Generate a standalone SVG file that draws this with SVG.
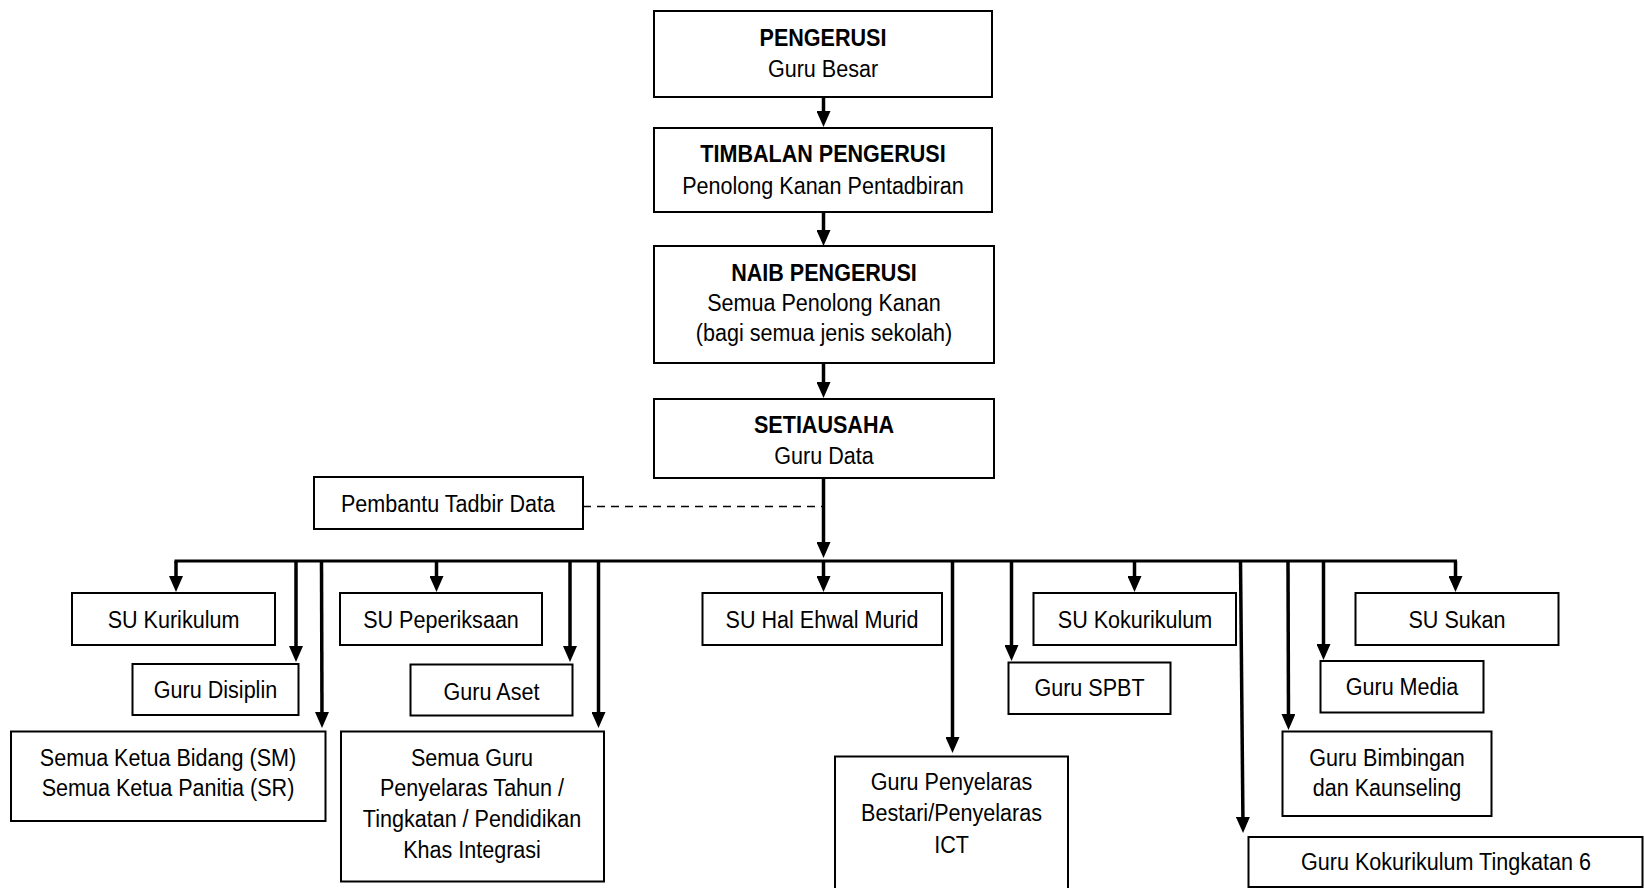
<svg xmlns="http://www.w3.org/2000/svg" width="1644" height="888" viewBox="0 0 1644 888">
<style>
.box{fill:#fff;stroke:#000;stroke-width:2}
.t{font-family:"Liberation Sans",Arial,sans-serif;font-size:24.5px;text-anchor:middle;fill:#000}
.b{font-weight:bold}
.c{stroke:#000;stroke-width:3.5;fill:none}
.bus{stroke:#000;stroke-width:3;fill:none}
.dash{stroke:#000;stroke-width:1.6;stroke-dasharray:8,6;fill:none}
</style>
<defs>
<marker id="ah" viewBox="0 0 16 14" markerWidth="16" markerHeight="14" refX="10" refY="7" orient="auto" markerUnits="userSpaceOnUse">
<path d="M0,0 L16,7 L0,14 z" fill="#000"/>
</marker>
</defs>
<rect width="1644" height="888" fill="#fff"/>

<g id="pengerusi">
<rect class="box" x="654" y="11" width="338" height="86"/>
<g transform="translate(823 0) scale(0.88 1)" class="t"><text class="b" x="0" y="46.5">PENGERUSI</text><text x="0" y="77">Guru Besar</text></g>
</g>
<g id="timbalan">
<rect class="box" x="654" y="128" width="338" height="84"/>
<g transform="translate(823 0) scale(0.88 1)" class="t"><text class="b" x="0" y="162.5">TIMBALAN PENGERUSI</text><text x="0" y="194.5">Penolong Kanan Pentadbiran</text></g>
</g>
<g id="naib">
<rect class="box" x="654" y="246" width="340" height="117"/>
<g transform="translate(824 0) scale(0.88 1)" class="t"><text class="b" x="0" y="281.5">NAIB PENGERUSI</text><text x="0" y="311.5">Semua Penolong Kanan</text><text x="0" y="341.5">(bagi semua jenis sekolah)</text></g>
</g>
<g id="setiausaha">
<rect class="box" x="654" y="399" width="340" height="79"/>
<g transform="translate(824 0) scale(0.88 1)" class="t"><text class="b" x="0" y="433">SETIAUSAHA</text><text x="0" y="464">Guru Data</text></g>
</g>
<g id="pembantu">
<rect class="box" x="314" y="477" width="269" height="52"/>
<g transform="translate(448 0) scale(0.88 1)" class="t"><text x="0" y="512.5">Pembantu Tadbir Data</text></g>
</g>

<g id="su-kurikulum">
<rect class="box" x="72" y="593" width="203" height="52"/>
<g transform="translate(173.5 0) scale(0.88 1)" class="t"><text x="0" y="628">SU Kurikulum</text></g>
</g>
<g id="guru-disiplin">
<rect class="box" x="132.5" y="664" width="166" height="51"/>
<g transform="translate(215.5 0) scale(0.88 1)" class="t"><text x="0" y="698.5">Guru Disiplin</text></g>
</g>
<g id="ketua-bidang">
<rect class="box" x="11" y="731.5" width="314.5" height="89.5"/>
<g transform="translate(168 0) scale(0.88 1)" class="t"><text x="0" y="766.5">Semua Ketua Bidang (SM)</text><text x="0" y="796.5">Semua Ketua Panitia (SR)</text></g>
</g>
<g id="su-peperiksaan">
<rect class="box" x="340" y="593" width="202" height="52"/>
<g transform="translate(441 0) scale(0.88 1)" class="t"><text x="0" y="628">SU Peperiksaan</text></g>
</g>
<g id="guru-aset">
<rect class="box" x="410.5" y="664.5" width="162" height="51"/>
<g transform="translate(491.5 0) scale(0.88 1)" class="t"><text x="0" y="700">Guru Aset</text></g>
</g>
<g id="guru-penyelaras-tahun">
<rect class="box" x="341" y="731.5" width="263" height="150"/>
<g transform="translate(472 0) scale(0.88 1)" class="t"><text x="0" y="766.5">Semua Guru</text><text x="0" y="796.5">Penyelaras Tahun /</text><text x="0" y="827">Tingkatan / Pendidikan</text><text x="0" y="858">Khas Integrasi</text></g>
</g>
<g id="su-hem">
<rect class="box" x="702.5" y="593" width="239.5" height="52"/>
<g transform="translate(822 0) scale(0.88 1)" class="t"><text x="0" y="628">SU Hal Ehwal Murid</text></g>
</g>
<g id="guru-penyelaras-ict">
<rect class="box" x="835" y="756.5" width="233" height="145"/>
<g transform="translate(951.5 0) scale(0.88 1)" class="t"><text x="0" y="790.5">Guru Penyelaras</text><text x="0" y="821.5">Bestari/Penyelaras</text><text x="0" y="853">ICT</text></g>
</g>
<g id="guru-spbt">
<rect class="box" x="1008.5" y="662.5" width="162" height="51.5"/>
<g transform="translate(1089.5 0) scale(0.88 1)" class="t"><text x="0" y="696.5">Guru SPBT</text></g>
</g>
<g id="su-kokurikulum">
<rect class="box" x="1033.5" y="593" width="202.5" height="52"/>
<g transform="translate(1135 0) scale(0.88 1)" class="t"><text x="0" y="628">SU Kokurikulum</text></g>
</g>
<g id="guru-koko-t6">
<rect class="box" x="1248.5" y="837" width="394" height="50"/>
<g transform="translate(1446 0) scale(0.88 1)" class="t"><text x="0" y="870">Guru Kokurikulum Tingkatan 6</text></g>
</g>
<g id="guru-bimbingan">
<rect class="box" x="1282.5" y="731.5" width="209" height="84.5"/>
<g transform="translate(1387 0) scale(0.88 1)" class="t"><text x="0" y="766.5">Guru Bimbingan</text><text x="0" y="796.5">dan Kaunseling</text></g>
</g>
<g id="guru-media">
<rect class="box" x="1320.5" y="661" width="163" height="51.5"/>
<g transform="translate(1402 0) scale(0.88 1)" class="t"><text x="0" y="695.5">Guru Media</text></g>
</g>
<g id="su-sukan">
<rect class="box" x="1355.5" y="593" width="203" height="52"/>
<g transform="translate(1457 0) scale(0.88 1)" class="t"><text x="0" y="628">SU Sukan</text></g>
</g>

<g id="connectors">
<line class="c" x1="823.5" y1="97" x2="823.5" y2="121" marker-end="url(#ah)"/>
<line class="c" x1="823.5" y1="212" x2="823.5" y2="240" marker-end="url(#ah)"/>
<line class="c" x1="823.5" y1="363" x2="823.5" y2="392" marker-end="url(#ah)"/>
<line class="c" x1="823.5" y1="478" x2="823.5" y2="552" marker-end="url(#ah)"/>
<line class="dash" x1="583" y1="506.5" x2="822" y2="506.5"/>
<line class="bus" x1="174.5" y1="561" x2="1457" y2="561"/>
<line class="c" x1="176" y1="561" x2="176" y2="586" marker-end="url(#ah)"/>
<line class="c" x1="296" y1="561" x2="296" y2="656" marker-end="url(#ah)"/>
<line class="c" x1="321.5" y1="561" x2="322" y2="722" marker-end="url(#ah)"/>
<line class="c" x1="436.5" y1="561" x2="436.5" y2="586" marker-end="url(#ah)"/>
<line class="c" x1="570" y1="561" x2="570" y2="656" marker-end="url(#ah)"/>
<line class="c" x1="598.5" y1="561" x2="598.5" y2="722" marker-end="url(#ah)"/>
<line class="c" x1="823.5" y1="561" x2="823.5" y2="586" marker-end="url(#ah)"/>
<line class="c" x1="952.5" y1="561" x2="952.5" y2="747" marker-end="url(#ah)"/>
<line class="c" x1="1011.5" y1="561" x2="1011.5" y2="655" marker-end="url(#ah)"/>
<line class="c" x1="1134.5" y1="561" x2="1134.5" y2="586" marker-end="url(#ah)"/>
<line class="c" x1="1240.5" y1="561" x2="1243" y2="827" marker-end="url(#ah)"/>
<line class="c" x1="1288" y1="561" x2="1288.5" y2="724" marker-end="url(#ah)"/>
<line class="c" x1="1323.5" y1="561" x2="1323.5" y2="654" marker-end="url(#ah)"/>
<line class="c" x1="1455.5" y1="561" x2="1455.5" y2="586" marker-end="url(#ah)"/>
</g>
</svg>
